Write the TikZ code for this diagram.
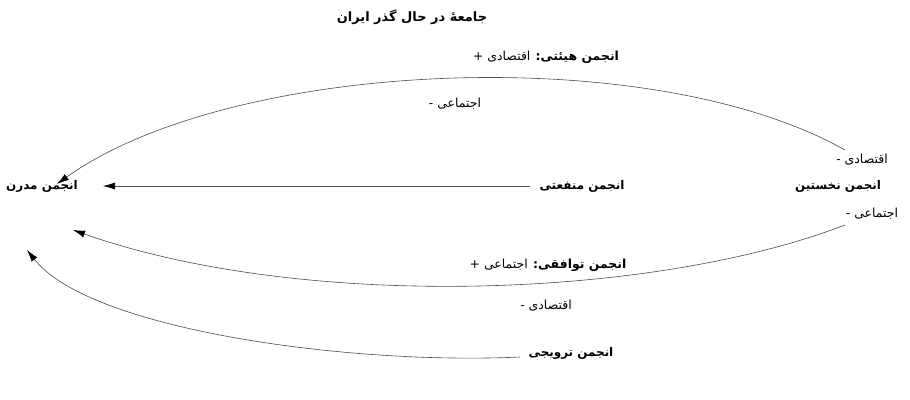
\documentclass[tikz,border=0pt]{standalone}
\usepackage{fontspec}
\usetikzlibrary{arrows.meta}
\TeXXeTstate=1
\newfontfamily\arfont[Script=Arabic]{DejaVu Sans}
\tikzset{
  lbl/.style={inner sep=1bp, font=\arfont\fontsize{12.5}{14}\selectfont},
  blbl/.style={inner sep=1bp, font=\arfont\bfseries\fontsize{12}{14}\selectfont},
  conn/.style={draw=black!70, line width=0.6bp, -{Latex[length=12bp,width=7bp,black]}},
}
\begin{document}
\begin{tikzpicture}[x=1bp,y=-1bp]
\useasboundingbox (0,0) rectangle (910,399);
% title
\node[blbl, font=\arfont\bfseries\fontsize{13}{15}\selectfont] (title) at (412,17) {\beginR جامعهٔ در حال گذر ایران\endR};
% nodes
\node[blbl] (modern) at (42,186) {\beginR انجمن مدرن\endR};
\node[blbl] (interest) at (582,186) {\beginR انجمن منفعتی\endR};
\node[blbl] (primary) at (838,186) {\beginR انجمن نخستین\endR};
\node[lbl] (hayati) at (546,57) {\beginR\textbf{انجمن هیئتی:} اقتصادی +\endR};
\node[lbl] (soc1) at (455,104) {\beginR اجتماعی -\endR};
\node[lbl] (econ1) at (862,160) {\beginR اقتصادی -\endR};
\node[lbl] (soc2) at (872,214) {\beginR اجتماعی -\endR};
\node[lbl] (tavafoghi) at (548,265) {\beginR\textbf{انجمن توافقی:} اجتماعی +\endR};
\node[lbl] (econ2) at (546,306) {\beginR اقتصادی -\endR};
\node[blbl] (tarviji) at (571,353) {\beginR انجمن ترویجی\endR};
% anchor points
\coordinate (s1) at (845,150);
\coordinate (t1) at (57,184);
\coordinate (t2) at (103,186);
\coordinate (s3) at (845,225);
\coordinate (t3) at (73,230);
\coordinate (s4) at (520,357);
\coordinate (t4) at (27,250);
% connectors
\draw[conn] (s1) .. controls (650,40) and (230,60) .. (t1);
\draw[conn] (interest.west) ++(-8,0) -- (t2);
\draw[conn] (s3) .. controls (650,300) and (300,310) .. (t3);
\draw[conn] (s4) .. controls (350,365) and (90,330) .. (t4);
\end{tikzpicture}
\end{document}
